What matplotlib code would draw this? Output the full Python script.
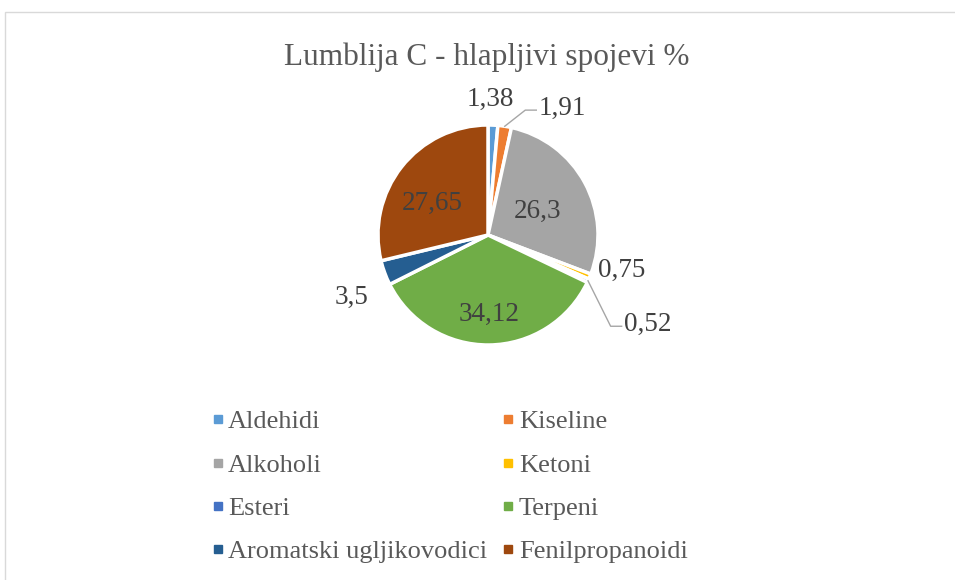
import numpy as np
import matplotlib.pyplot as plt
from matplotlib.patches import Rectangle
from matplotlib.lines import Line2D

# data
categories = ["Aldehidi", "Kiseline", "Alkoholi", "Ketoni", "Esteri",
              "Terpeni", "Aromatski ugljikovodici", "Fenilpropanoidi"]
values = [1.38, 1.91, 26.3, 0.75, 0.52, 34.12, 3.5, 27.65]
value_labels = ["1,38", "1,91", "26,3", "0,75", "0,52", "34,12", "3,5", "27,65"]
colors = ["#5B9BD5", "#ED7D31", "#A5A5A5", "#FFC000", "#4472C4",
          "#70AD47", "#255E91", "#9E480E"]
title = "Lumblija C - hlapljivi spojevi %"

# label layout: (radius, angle shift in deg, leader line)
label_layout = [
    (1.23, 1.5, False),
    (1.34, -21.7, True),
    (0.50, -2.5, False),
    (1.26, 7.6, False),
    (1.665, -4.5, True),
    (0.72, 0.0, False),
    (1.36, 4.4, False),
    (0.58, 9.0, False),
]

plt.rcParams["font.family"] = ["Liberation Serif", "DejaVu Serif"]

W, H = 955, 580
fig = plt.figure(figsize=(W / 100, H / 100), dpi=100)

# chart area border (light gray, cut at right/bottom like the reference)
fig.patches.append(Rectangle((5 / W, -0.1), 1.2, (H - 12) / H + 0.1,
                             transform=fig.transFigure, fill=False,
                             edgecolor="#D9D9D9", linewidth=1))

fig.text(487 / W, 1 - 57 / H, title, ha="center", va="center",
         fontsize=22.5, color="#595959")

cx, cy, r = 488, 235, 110
ax = fig.add_axes([(cx - r) / W, (H - cy - r) / H, 2 * r / W, 2 * r / H])
wedges, _ = ax.pie(values, colors=colors, startangle=90, counterclock=False,
                   radius=1.0, wedgeprops=dict(edgecolor="white", linewidth=2.5))
ax.set_xlim(-1, 1)
ax.set_ylim(-1, 1)
ax.axis("off")

for w, lab, (rad, shift, leader) in zip(wedges, value_labels, label_layout):
    mid = np.deg2rad((w.theta1 + w.theta2) / 2)
    ang = mid + np.deg2rad(shift)
    tx, ty = rad * np.cos(ang), rad * np.sin(ang)
    if leader:
        sx, sy = np.cos(mid), np.sin(mid)
        ex = tx - 0.24
        ax.plot([sx, ex - 0.1, ex], [sy, ty - 0.02, ty - 0.02],
                color="#A6A6A6", lw=1, clip_on=False)
    ax.text(tx, ty, lab, ha="center", va="center", fontsize=19.5,
            color="#404040", clip_on=False)

# legend, filled row by row like the reference
order = [0, 2, 4, 6, 1, 3, 5, 7]
handles = [Line2D([], [], marker="s", linestyle="none", markersize=6,
                  markerfacecolor=colors[i], markeredgecolor=colors[i])
           for i in order]
fig.legend(handles, [categories[i] for i in order], ncol=2,
           loc="upper left", bbox_to_anchor=(211 / W, 1 - 410 / H),
           frameon=False, fontsize=19, labelcolor="#595959",
           handlelength=0.5, handletextpad=0.15, columnspacing=0.55,
           labelspacing=0.75, borderpad=0, borderaxespad=0)

fig.savefig("out.png", dpi=100)
